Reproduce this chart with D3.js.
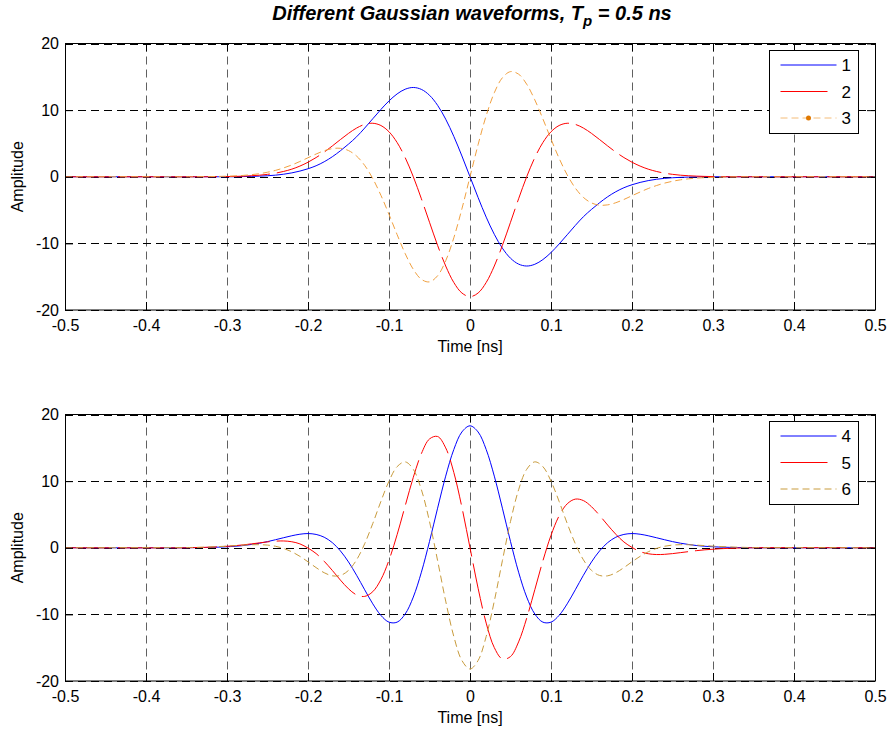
<!DOCTYPE html>
<html>
<head>
<meta charset="utf-8">
<script src="https://cdn.jsdelivr.net/npm/d3@7"></script>
<style>
  body { margin: 0; background: #fff; }
  text { font-family: Arial, 'Liberation Sans', sans-serif; }
</style>
</head>
<body>
<script>

var width = 892,
    height = 735;

// time axis [ns]
var time = [-0.5,
  -0.35, -0.34, -0.33, -0.32, -0.31, -0.30, -0.29, -0.28, -0.27, -0.26, -0.25, -0.24,
  -0.23, -0.22, -0.21, -0.20, -0.19, -0.18, -0.17, -0.16, -0.15, -0.14, -0.13, -0.12,
  -0.11, -0.10, -0.09, -0.08, -0.07, -0.06, -0.05, -0.04, -0.03, -0.02, -0.01,
  0,
  0.01, 0.02, 0.03, 0.04, 0.05, 0.06, 0.07, 0.08, 0.09, 0.10, 0.11, 0.12,
  0.13, 0.14, 0.15, 0.16, 0.17, 0.18, 0.19, 0.20, 0.21, 0.22, 0.23, 0.24,
  0.25, 0.26, 0.27, 0.28, 0.29, 0.30, 0.31, 0.32, 0.33, 0.34, 0.35,
  0.5];

// top panel
var wave1 = [0,
  0, 0, 0, 0, 0, 0, 0, 0.03, 0.05, 0.09, 0.15, 0.24,
  0.38, 0.58, 0.85, 1.2, 1.65, 2.25, 3.0, 3.9, 4.9, 6.0, 7.31, 8.71,
  10.10, 11.38, 12.43, 13.14, 13.40, 13.11, 12.23, 10.72, 8.64, 6.06, 3.12,
  0,
  -3.12, -6.06, -8.64, -10.72, -12.23, -13.11, -13.40, -13.14, -12.43, -11.38, -10.10, -8.71,
  -7.31, -6.0, -4.9, -3.9, -3.0, -2.25, -1.65, -1.2, -0.85, -0.58, -0.38, -0.24,
  -0.15, -0.09, -0.05, -0.03, 0, 0, 0, 0, 0, 0, 0,
  0];

var wave2 = [0,
  0, 0, 0, 0, 0.02, 0.03, 0.05, 0.09, 0.15, 0.23, 0.36, 0.54,
  0.80, 1.14, 1.60, 2.18, 2.88, 3.70, 4.62, 5.58, 6.51, 7.31, 7.86, 8.03,
  7.69, 6.75, 5.14, 2.87, 0, -3.31, -6.83, -10.30, -13.40, -15.87, -17.45,
  -18.00,
  -17.45, -15.87, -13.40, -10.30, -6.83, -3.31, 0, 2.87, 5.14, 6.75, 7.69, 8.03,
  7.86, 7.31, 6.51, 5.58, 4.62, 3.70, 2.88, 2.18, 1.60, 1.14, 0.80, 0.54,
  0.36, 0.23, 0.15, 0.09, 0.05, 0.03, 0.02, 0, 0, 0, 0,
  0];

var wave3 = [0,
  0, 0, 0.02, 0.03, 0.05, 0.08, 0.13, 0.20, 0.31, 0.46, 0.68, 0.96,
  1.33, 1.77, 2.29, 2.85, 3.41, 3.90, 4.22, 4.27, 3.93, 3.10, 1.70, -0.28,
  -2.78, -5.66, -8.68, -11.54, -13.89, -15.40, -15.78, -14.86, -12.61, -9.17, -4.82,
  0,
  4.82, 9.17, 12.61, 14.86, 15.78, 15.40, 13.89, 11.54, 8.68, 5.66, 2.78, 0.28,
  -1.70, -3.10, -3.93, -4.27, -4.22, -3.90, -3.41, -2.85, -2.29, -1.77, -1.33, -0.96,
  -0.68, -0.46, -0.31, -0.20, -0.13, -0.08, -0.05, -0.03, -0.02, 0, 0,
  0];

// bottom panel
var wave4 = [0,
  0, 0.02, 0.03, 0.06, 0.09, 0.15, 0.22, 0.33, 0.49, 0.68, 0.92, 1.21,
  1.51, 1.80, 2.03, 2.13, 2.00, 1.58, 0.77, -0.47, -2.13, -4.13, -6.31, -8.42,
  -10.15, -11.17, -11.17, -9.94, -7.40, -3.67, 0.94, 5.94, 10.75, 14.74, 17.38,
  18.30,
  17.38, 14.74, 10.75, 5.94, 0.94, -3.67, -7.40, -9.94, -11.17, -11.17, -10.15, -8.42,
  -6.31, -4.13, -2.13, -0.47, 0.77, 1.58, 2.00, 2.13, 2.03, 1.80, 1.51, 1.21,
  0.92, 0.68, 0.49, 0.33, 0.22, 0.15, 0.09, 0.06, 0.03, 0.02, 0,
  0];

var wave5 = [0,
  0, 0.03, 0.05, 0.09, 0.14, 0.22, 0.31, 0.43, 0.58, 0.73, 0.88, 0.99,
  1.02, 0.90, 0.58, -0.05, -0.87, -2.03, -3.40, -4.85, -6.16, -7.08, -7.30, -6.59,
  -4.78, -1.86, 1.96, 6.30, 10.57, 14.13, 16.33, 16.70, 14.99, 11.31, 6.08,
  0,
  -6.08, -11.31, -14.99, -16.70, -16.33, -14.13, -10.57, -6.30, -1.96, 1.86, 4.78, 6.59,
  7.30, 7.08, 6.16, 4.85, 3.40, 2.03, 0.87, 0.05, -0.58, -0.90, -1.02, -0.99,
  -0.88, -0.73, -0.58, -0.43, -0.31, -0.22, -0.14, -0.09, -0.05, -0.03, 0,
  0];

var wave6 = [0,
  0.03, 0.05, 0.08, 0.12, 0.18, 0.24, 0.32, 0.39, 0.45, 0.46, 0.40, 0.22,
  -0.11, -0.61, -1.29, -2.11, -2.98, -3.75, -4.21, -4.16, -3.40, -1.81, 0.61, 3.65,
  6.96, 10.00, 12.17, 12.89, 11.77, 8.71, 3.94, -1.93, -8.01, -13.31, -16.92,
  -18.20,
  -16.92, -13.31, -8.01, -1.93, 3.94, 8.71, 11.77, 12.89, 12.17, 10.00, 6.96, 3.65,
  0.61, -1.81, -3.40, -4.16, -4.21, -3.75, -2.98, -2.11, -1.29, -0.61, -0.11, 0.22,
  0.40, 0.46, 0.45, 0.39, 0.32, 0.24, 0.18, 0.12, 0.08, 0.05, 0.03,
  0];

var xTicks = [-0.5, -0.4, -0.3, -0.2, -0.1, 0, 0.1, 0.2, 0.3, 0.4, 0.5];
var yTicks = [-20, -10, 0, 10, 20];
var topNames = ['1', '2', '3'];
var bottomNames = ['4', '5', '6'];

var svg = d3.select('body')
    .append('svg')
    .attr('width', width)
    .attr('height', height)
    .style('background', '#ffffff');

var x = d3.scaleLinear()
    .domain([-0.5, 0.5])
    .range([65, 875]);

// title with subscript
var title = svg.append('text')
    .attr('x', 472)
    .attr('y', 20)
    .attr('text-anchor', 'middle')
    .attr('font-size', 20)
    .attr('font-weight', 'bold')
    .attr('font-style', 'italic');
title.append('tspan').text('Different Gaussian waveforms, T');
title.append('tspan').attr('dy', 6).attr('font-size', 15).text('p');
title.append('tspan').attr('dy', -6).text(' = 0.5 ns');

var drawPanel = function(id, top, bottom, series, names) {

    var y = d3.scaleLinear()
        .domain([-20, 20])
        .range([bottom, top]);

    var g = svg.append('g').classed('panel-' + id, true);

    g.append('clipPath')
        .attr('id', 'clip' + id)
        .append('rect')
        .attr('x', x.range()[0])
        .attr('y', top)
        .attr('width', x.range()[1] - x.range()[0])
        .attr('height', bottom - top);

    // dashed grid
    g.selectAll('line.vgrid')
        .data(xTicks)
        .enter()
        .append('line')
        .classed('vgrid', true)
        .attr('x1', function(d) { return Math.round(x(d)) + 0.5; })
        .attr('x2', function(d) { return Math.round(x(d)) + 0.5; })
        .attr('y1', top)
        .attr('y2', bottom)
        .style('stroke', '#606060')
        .style('stroke-dasharray', '8,5');

    g.selectAll('line.hgrid')
        .data(yTicks)
        .enter()
        .append('line')
        .classed('hgrid', true)
        .attr('x1', x.range()[0])
        .attr('x2', x.range()[1])
        .attr('y1', function(d) { return Math.round(y(d)) + 0.5; })
        .attr('y2', function(d) { return Math.round(y(d)) + 0.5; })
        .style('stroke', '#000')
        .style('stroke-dasharray', '8,5');

    var line = d3.line()
        .x(function(d) { return x(d[0]); })
        .y(function(d) { return y(d[1]); })
        .curve(d3.curveCatmullRom);

    series.forEach(function(s) {
        g.append('path')
            .datum(time.map(function(t, i) { return [t, s.values[i]]; }))
            .attr('clip-path', 'url(#clip' + id + ')')
            .attr('d', line)
            .style('fill', 'none')
            .style('stroke', s.color)
            .style('stroke-width', 1)
            .style('stroke-dasharray', s.dash);
    });

    // axes with inward ticks
    var fmt = function(d) { return String(d); };
    var styleAxis = function(a) {
        a.selectAll('path').remove();
        a.selectAll('line').style('stroke', '#000');
        a.selectAll('text')
            .attr('font-size', 16)
            .attr('font-family', "Arial, 'Liberation Sans', sans-serif")
            .style('fill', '#000');
    };

    g.append('g')
        .attr('transform', 'translate(0,' + bottom + ')')
        .call(d3.axisBottom(x).tickValues(xTicks).tickSizeInner(-8).tickSizeOuter(0).tickPadding(10).tickFormat(fmt))
        .call(styleAxis);
    g.append('g')
        .attr('transform', 'translate(0,' + top + ')')
        .call(d3.axisTop(x).tickValues(xTicks).tickSizeInner(-8).tickSizeOuter(0).tickFormat(''))
        .call(styleAxis);
    g.append('g')
        .attr('transform', 'translate(' + x.range()[0] + ',0)')
        .call(d3.axisLeft(y).tickValues(yTicks).tickSizeInner(-8).tickSizeOuter(0).tickPadding(6).tickFormat(fmt))
        .call(styleAxis);
    g.append('g')
        .attr('transform', 'translate(' + x.range()[1] + ',0)')
        .call(d3.axisRight(y).tickValues(yTicks).tickSizeInner(-8).tickSizeOuter(0).tickFormat(''))
        .call(styleAxis);

    g.append('rect')
        .attr('x', x.range()[0] + 0.5)
        .attr('y', top)
        .attr('width', x.range()[1] - x.range()[0])
        .attr('height', bottom - top)
        .style('fill', 'none')
        .style('stroke', '#000');

    g.append('text')
        .attr('x', x(0))
        .attr('y', bottom + 42)
        .attr('text-anchor', 'middle')
        .attr('font-size', 16)
        .text('Time [ns]');

    g.append('text')
        .attr('transform', 'translate(23,' + ((top + bottom) / 2) + ') rotate(-90)')
        .attr('text-anchor', 'middle')
        .attr('font-size', 16)
        .text('Amplitude');

    // legend
    var lg = g.append('g')
        .attr('transform', 'translate(769.5,' + (top + 7) + ')');

    lg.append('rect')
        .attr('width', 89)
        .attr('height', 83)
        .style('fill', '#fff')
        .style('stroke', '#000');

    series.forEach(function(s, i) {
        var ly = 14.5 + i * 26.5;
        lg.append('line')
            .attr('x1', 11)
            .attr('x2', s.legendEnd)
            .attr('y1', ly)
            .attr('y2', ly)
            .style('stroke', s.color)
            .style('stroke-opacity', s.marker ? 0.7 : 1)
            .style('stroke-dasharray', s.dash === '7,4' ? s.dash : null);
        if (s.marker) {
            lg.append('circle')
                .attr('cx', 39)
                .attr('cy', ly)
                .attr('r', 2.5)
                .style('fill', s.marker);
        }
        lg.append('text')
            .attr('x', 72)
            .attr('y', ly + 6)
            .attr('font-size', 17)
            .text(names[i]);
    });
};

drawPanel('top', 43.5, 310, [
    {values: wave1, color: '#0000ff', dash: null, legendEnd: 67},
    {values: wave2, color: '#ff0000', dash: '46,7', legendEnd: 58},
    {values: wave3, color: '#f0a040', dash: '7,4', legendEnd: 67, marker: '#e07800'}
], topNames);

drawPanel('bottom', 414.5, 681, [
    {values: wave4, color: '#0000ff', dash: null, legendEnd: 67},
    {values: wave5, color: '#ff0000', dash: '46,7', legendEnd: 58},
    {values: wave6, color: '#c89b3c', dash: '7,4', legendEnd: 67}
], bottomNames);

</script>
</body>
</html>
